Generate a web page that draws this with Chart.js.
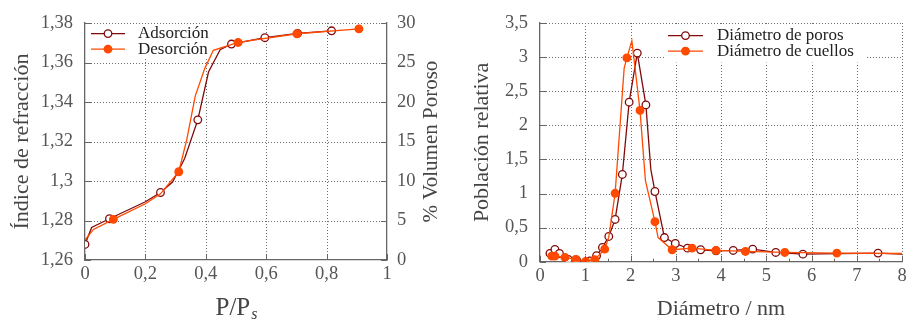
<!DOCTYPE html>
<html><head><meta charset="utf-8">
<script src="https://cdn.jsdelivr.net/npm/chart.js@4/dist/chart.umd.min.js"></script>
<style>
html,body{margin:0;padding:0;background:#fff;overflow:hidden}
#wrap{position:relative;width:913px;height:321px}
canvas{position:absolute;top:0}
#c1{left:0}
#c2{left:455px}
</style></head><body>
<div id="wrap"><canvas id="c1" width="455" height="321"></canvas><canvas id="c2" width="458" height="321"></canvas></div>
<script>
// ---------- Left chart: refractive index vs P/Ps ----------
const adsLineP = [0, 0.022, 0.081, 0.2, 0.25, 0.29, 0.33, 0.3735, 0.409, 0.4475, 0.485, 0.5956, 0.704, 0.8166];
const adsLineN = [1.2679, 1.2765, 1.2809, 1.2895, 1.2942, 1.2995, 1.3114, 1.331, 1.3552, 1.3665, 1.3694, 1.3726, 1.3748, 1.3761];
const adsMarkP = [0, 0.081, 0.25, 0.3735, 0.485, 0.5956, 0.704, 0.8166];
const adsMarkN = [1.2679, 1.2809, 1.2942, 1.331, 1.3694, 1.3726, 1.3748, 1.3761];
const desLineP = [0, 0.028, 0.094, 0.2, 0.25, 0.3105, 0.337, 0.365, 0.397, 0.425, 0.507, 0.7017, 0.907];
const desLineN = [1.2701, 1.2755, 1.2806, 1.2885, 1.2935, 1.3047, 1.321, 1.343, 1.3572, 1.3662, 1.3702, 1.3746, 1.3771];
const desMarkP = [0.094, 0.3105, 0.507, 0.7017, 0.907];
const desMarkN = [1.2806, 1.3047, 1.3702, 1.3746, 1.3771];
const leftLegend = ['Adsorción', 'Desorción'];

// ---------- Right chart: population vs diameter ----------
const porLineD = [0.22, 0.33, 0.43, 0.625, 0.81, 1.1, 1.25, 1.38, 1.52, 1.66, 1.82, 1.97, 2.15, 2.34, 2.45, 2.54, 2.75, 2.99, 3.26, 3.55, 3.89, 4.27, 4.70, 5.21, 5.81, 7.47, 8.0];
const porLineY = [0.121, 0.18, 0.121, 0.034, 0.024, 0.01, 0.087, 0.21, 0.37, 0.62, 1.28, 2.34, 3.06, 2.30, 1.35, 1.03, 0.354, 0.267, 0.199, 0.175, 0.16, 0.165, 0.184, 0.136, 0.111, 0.126, 0.11];
const porMarkD = [0.22, 0.33, 0.43, 0.625, 0.81, 1.1, 1.25, 1.38, 1.52, 1.66, 1.82, 1.97, 2.15, 2.34, 2.54, 2.75, 2.99, 3.26, 3.55, 3.89, 4.27, 4.70, 5.21, 5.81, 7.47];
const porMarkY = [0.121, 0.18, 0.121, 0.034, 0.024, 0.01, 0.087, 0.21, 0.37, 0.62, 1.28, 2.34, 3.06, 2.30, 1.03, 0.354, 0.267, 0.199, 0.175, 0.16, 0.165, 0.184, 0.136, 0.111, 0.126];
const cueLineD = [0.26, 0.33, 0.55, 0.79, 1.01, 1.21, 1.43, 1.52, 1.66, 1.86, 1.92, 2.03, 2.21, 2.33, 2.54, 2.61, 2.92, 3.36, 3.89, 4.54, 5.41, 6.56, 8.0];
const cueLineY = [0.082, 0.082, 0.063, 0.034, 0.005, 0.03, 0.184, 0.36, 1.003, 2.84, 2.99, 3.24, 2.22, 1.19, 0.587, 0.354, 0.175, 0.199, 0.165, 0.15, 0.136, 0.126, 0.12];
const cueMarkD = [0.26, 0.33, 0.55, 0.79, 1.01, 1.21, 1.43, 1.66, 1.92, 2.21, 2.54, 2.92, 3.36, 3.89, 4.54, 5.41, 6.56];
const cueMarkY = [0.082, 0.082, 0.063, 0.034, 0.005, 0.03, 0.184, 1.003, 2.99, 2.22, 0.587, 0.175, 0.199, 0.165, 0.15, 0.136, 0.126];
const rightLegend = ['Diámetro de poros', 'Diámetro de cuellos'];

const DARK = '#800a0a';
const ORANGE = '#ff4a00';
const SERIF = '"Liberation Serif", "DejaVu Serif", serif';
const TICKC = '#555';
const TITLEC = '#444';
const zip = (a, b) => a.map((v, i) => ({x: v, y: b[i]}));
const fmt = v => String(parseFloat(Number(v).toFixed(2))).replace('.', ',');

function lineDs(data, color, order) {
  return {data, borderColor: color, borderWidth: 1.3, pointRadius: 0, tension: 0, fill: false, order};
}
function markDs(data, color, filled, order) {
  return {data, showLine: false, pointRadius: 3.8, pointBorderWidth: 1.3,
    pointBorderColor: color, pointBackgroundColor: filled ? color : '#fff', order};
}

// dotted grid (painted underneath everything) + inward tick marks
function makeGridTicks(list) {
  return {
    id: 'gridTicks',
    afterDraw(chart) {
      const ctx = chart.ctx, a = chart.chartArea;
      ctx.save();
      ctx.globalCompositeOperation = 'destination-over';
      ctx.fillStyle = '#6e6e6e';
      list.forEach(s => {
        if (!s.grid) return;
        const sc = chart.scales[s.id];
        sc.ticks.forEach(t => {
          const p = Math.round(sc.getPixelForValue(t.value));
          if (sc.isHorizontal()) {
            if (Math.abs(p - a.left) < 2 || (Math.abs(p - a.right) < 2 && s.skipEnd)) return;
            for (let y = Math.round(a.top); y < a.bottom; y += 3) ctx.fillRect(p, y, 1, 1);
          } else {
            if (Math.abs(p - a.bottom) < 2) return;
            for (let x = Math.round(a.left); x < a.right; x += 3) ctx.fillRect(x, p, 1, 1);
          }
        });
      });
      ctx.globalCompositeOperation = 'source-over';
      ctx.strokeStyle = '#666';
      ctx.lineWidth = 1;
      list.forEach(s => {
        const sc = chart.scales[s.id];
        const vals = [];
        sc.ticks.forEach(t => vals.push([t.value, s.len]));
        if (s.minor) {
          for (let v = sc.min; v <= sc.max + 1e-9; v += s.minor) vals.push([v, s.len / 2]);
        }
        vals.forEach(([v, L]) => {
          const p = Math.round(sc.getPixelForValue(v)) + 0.5;
          ctx.beginPath();
          if (sc.isHorizontal()) {
            ctx.moveTo(p, a.bottom); ctx.lineTo(p, a.bottom - L);
          } else if (sc.position === 'left') {
            ctx.moveTo(a.left, p); ctx.lineTo(a.left + L, p);
          } else {
            ctx.moveTo(a.right, p); ctx.lineTo(a.right - L, p);
          }
          ctx.stroke();
        });
      });
      ctx.restore();
    }
  };
}

// legend inside the plot; its opaque white box hides the grid but not the data
function makeLegend(items, cfg) {
  return {
    id: 'legendInside',
    beforeDatasetsDraw(chart) {
      const ctx = chart.ctx, a = chart.chartArea;
      ctx.save();
      ctx.fillStyle = '#fff';
      ctx.fillRect(a.left + cfg.bx, a.top + 1.5, cfg.bw, cfg.bh);
      ctx.restore();
    },
    afterDatasetsDraw(chart) {
      const ctx = chart.ctx, a = chart.chartArea;
      ctx.save();
      items.forEach((it, i) => {
        const y = a.top + cfg.y0 + i * cfg.dy;
        const x1 = a.left + cfg.lx1, x2 = a.left + cfg.lx2;
        ctx.strokeStyle = it.color; ctx.lineWidth = 1.3;
        ctx.beginPath(); ctx.moveTo(x1, y); ctx.lineTo(x2, y); ctx.stroke();
        ctx.beginPath(); ctx.arc((x1 + x2) / 2, y, 3.8, 0, Math.PI * 2);
        ctx.fillStyle = it.filled ? it.color : '#fff'; ctx.fill(); ctx.stroke();
        ctx.fillStyle = '#222';
        ctx.font = '17px ' + SERIF;
        ctx.textBaseline = 'middle'; ctx.textAlign = 'left';
        ctx.fillText(it.label, a.left + cfg.tx, y);
      });
      ctx.restore();
    }
  };
}

const leftTitles = {
  id: 'leftTitles',
  afterDraw(chart) {
    const ctx = chart.ctx, a = chart.chartArea;
    ctx.save();
    ctx.fillStyle = TITLEC;
    ctx.textBaseline = 'alphabetic';
    ctx.font = '25px ' + SERIF;
    const main = 'P/P';
    const w = ctx.measureText(main).width;
    ctx.font = 'italic 16px ' + SERIF;
    const ws = ctx.measureText('s').width;
    const cx = (a.left + a.right) / 2;
    const x0 = cx - (w + ws) / 2;
    ctx.font = '25px ' + SERIF;
    ctx.textAlign = 'left';
    ctx.fillText(main, x0, 315);
    ctx.font = 'italic 16px ' + SERIF;
    ctx.fillText('s', x0 + w + 1, 319);
    ctx.translate(437, (a.top + a.bottom) / 2);
    ctx.rotate(-Math.PI / 2);
    ctx.font = '21px ' + SERIF;
    ctx.textAlign = 'center';
    ctx.fillText('% Volumen Poroso', 0, 0);
    ctx.restore();
  }
};

const tickFont = {family: SERIF, size: 18.5};
const noGrid = {display: false, drawTicks: false};
const solidBorder = {display: true, color: '#666', width: 1.3};

new Chart(document.getElementById('c1'), {
  type: 'line',
  data: {datasets: [
    markDs(zip(desMarkP, desMarkN), ORANGE, true, 0),
    lineDs(zip(desLineP, desLineN), ORANGE, 1),
    markDs(zip(adsMarkP, adsMarkN), DARK, false, 2),
    lineDs(zip(adsLineP, adsLineN), DARK, 3)
  ]},
  options: {
    responsive: false, animation: false, events: [],
    layout: {padding: {top: 23, right: 0, left: 0, bottom: 0}},
    plugins: {legend: {display: false}, tooltip: {enabled: false}},
    scales: {
      x: {type: 'linear', min: 0, max: 1,
        afterFit: s => { s.height = 61; },
        ticks: {stepSize: 0.2, color: TICKC, font: tickFont, padding: 3, callback: fmt, maxRotation: 0},
        grid: noGrid, border: solidBorder, title: {display: false}},
      y: {type: 'linear', position: 'left', min: 1.26, max: 1.38,
        afterFit: s => { s.width = 85; },
        ticks: {stepSize: 0.02, color: TICKC, font: tickFont, padding: 12, callback: fmt},
        grid: noGrid, border: solidBorder,
        title: {display: true, text: 'Índice de refracción', color: TITLEC,
          font: {family: SERIF, size: 22, lineHeight: 1.2}, padding: {top: 9, bottom: 0}}},
      y2: {type: 'linear', position: 'right', min: 0, max: 30,
        afterFit: s => { s.width = 68; },
        ticks: {stepSize: 5, color: TICKC, font: tickFont, padding: 10},
        grid: noGrid, border: solidBorder}
    }
  },
  plugins: [
    makeGridTicks([{id: 'x', len: 6, grid: true, skipEnd: true}, {id: 'y', len: 6, grid: true}, {id: 'y2', len: 6}]),
    makeLegend([{label: leftLegend[0], color: DARK, filled: false}, {label: leftLegend[1], color: ORANGE, filled: true}],
      {y0: 10.5, dy: 15.5, lx1: 6, lx2: 40, tx: 53, bx: 2, bw: 127, bh: 33}),
    leftTitles]
});

new Chart(document.getElementById('c2'), {
  type: 'line',
  data: {datasets: [
    markDs(zip(cueMarkD, cueMarkY), ORANGE, true, 0),
    lineDs(zip(cueLineD, cueLineY), ORANGE, 1),
    markDs(zip(porMarkD, porMarkY), DARK, false, 2),
    lineDs(zip(porLineD, porLineY), DARK, 3)
  ]},
  options: {
    responsive: false, animation: false, events: [],
    layout: {padding: {top: 21, right: 11, left: 0, bottom: 0}},
    plugins: {legend: {display: false}, tooltip: {enabled: false}},
    scales: {
      x: {type: 'linear', min: 0, max: 8,
        afterFit: s => { s.height = 59.3; },
        ticks: {stepSize: 1, color: TICKC, font: tickFont, padding: 3, callback: fmt, maxRotation: 0},
        grid: noGrid, border: solidBorder,
        title: {display: true, text: 'Diámetro / nm', color: TITLEC,
          font: {family: SERIF, size: 22, lineHeight: 1.1}, padding: {top: 0, bottom: 0}}},
      y: {type: 'linear', position: 'left', min: 0, max: 3.5,
        afterFit: s => { s.width = 85; },
        ticks: {stepSize: 0.5, color: TICKC, font: tickFont, padding: 12, callback: fmt},
        grid: noGrid, border: solidBorder,
        title: {display: true, text: 'Población relativa', color: TITLEC,
          font: {family: SERIF, size: 22, lineHeight: 1.2}, padding: {top: 14, bottom: 0}}}
    }
  },
  plugins: [
    makeGridTicks([{id: 'x', len: 6, minor: 0.5, grid: true}, {id: 'y', len: 6, grid: true}]),
    makeLegend([{label: rightLegend[0], color: DARK, filled: false}, {label: rightLegend[1], color: ORANGE, filled: true}],
      {y0: 12.5, dy: 15.5, lx1: 128, lx2: 163, tx: 177, bx: 125, bw: 202, bh: 38})]
});
</script>
</body></html>
